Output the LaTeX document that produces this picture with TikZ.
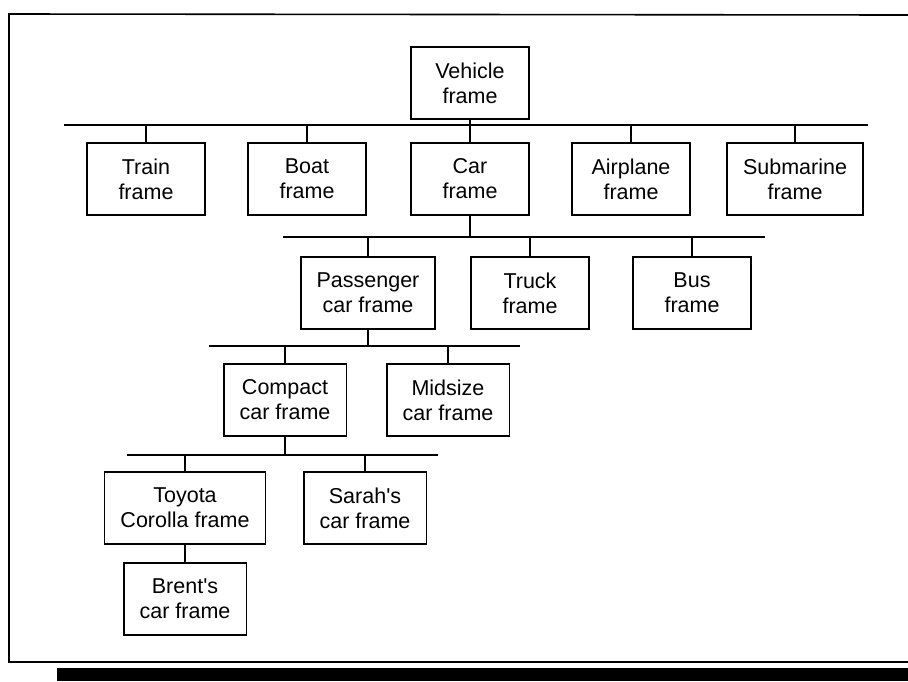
\documentclass[tikz,border=0pt]{standalone}
\usepackage{fontspec}
\setmainfont{Liberation Sans}
\usetikzlibrary{positioning}

\begin{document}
\begin{tikzpicture}[x=1pt,y=-1pt,
        frm/.style={draw, line width=1.8pt, align=center, minimum width=118pt,
            minimum height=72pt, inner xsep=16pt, font=\fontsize{21.5}{25}\selectfont},
        wire/.style={line width=1.2pt}]
    \useasboundingbox (0,0) rectangle (908,681);
    % page border and bar
    \draw[line width=1.6pt] (908,15) -- (9,14) -- (9,662) -- (908,662);
    \fill (57,668) rectangle (908,681);

    \node[frm] (vehicle) at (470,83) {Vehicle\\frame};

    \coordinate (l1a) at (64,125);
    \coordinate (l1b) at (868,125);
    \node[frm] (train) at (146,179) {Train\\frame};
    \node[frm] (boat) at (307,179) {Boat\\frame};
    \node[frm] (car) at (470,179) {Car\\frame};
    \node[frm] (airplane) at (631,179) {Airplane\\frame};
    \node[frm] (submarine) at (795,179) {Submarine\\frame};

    \coordinate (l2a) at (283,237);
    \coordinate (l2b) at (765,237);
    \node[frm] (passenger) at (368,293) {Passenger\\car frame};
    \node[frm] (truck) at (530,293) {Truck\\frame};
    \node[frm] (bus) at (692,293) {Bus\\frame};

    \coordinate (l3a) at (209,346);
    \coordinate (l3b) at (520,346);
    \node[frm] (compact) at (285,400) {Compact\\car frame};
    \node[frm] (midsize) at (448,400) {Midsize\\car frame};

    \coordinate (l4a) at (127,455);
    \coordinate (l4b) at (438,455);
    \node[frm] (corolla) at (185,508) {Toyota\\Corolla frame};
    \node[frm] (sarah) at (365,508) {Sarah\textquotesingle s\\car frame};
    \node[frm, below=17pt of corolla] (brent) {Brent\textquotesingle s\\car frame};

    \draw[wire] (l1a) -- (l1b);
    \draw[wire] (vehicle) -- (vehicle |- l1a);
    \foreach \n in {train,boat,car,airplane,submarine}
        \draw[wire] (\n) -- (\n |- l1a);

    \draw[wire] (l2a) -- (l2b);
    \draw[wire] (car) -- (car |- l2a);
    \foreach \n in {passenger,truck,bus}
        \draw[wire] (\n) -- (\n |- l2a);

    \draw[wire] (l3a) -- (l3b);
    \draw[wire] (passenger) -- (passenger |- l3a);
    \foreach \n in {compact,midsize}
        \draw[wire] (\n) -- (\n |- l3a);

    \draw[wire] (l4a) -- (l4b);
    \draw[wire] (compact) -- (compact |- l4a);
    \foreach \n in {corolla,sarah}
        \draw[wire] (\n) -- (\n |- l4a);

    \draw[wire] (corolla) -- (brent);
\end{tikzpicture}
\end{document}
